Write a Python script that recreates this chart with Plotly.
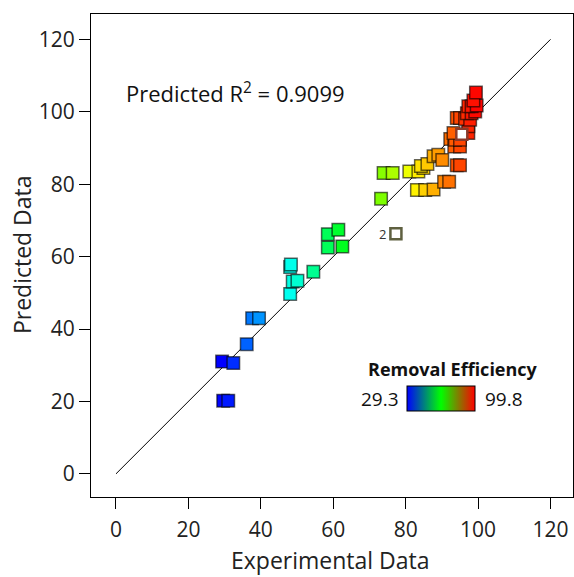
import plotly.graph_objects as go

# Experimental (actual) vs predicted removal efficiency
experimental = [29.3, 32.4, 29.6, 31.0, 36.1, 37.6, 39.5,
                48.1, 48.8, 50.1, 48.1, 48.3, 54.5,
                58.5, 61.4, 58.5, 62.5, 73.2, 73.9, 76.4,
                81.0, 83.5, 84.9, 84.2, 86.0, 87.7, 89.0, 90.1,
                83.1, 85.4, 87.7, 90.6, 92.0,
                94.1, 95.0, 92.3, 93.4, 95.0, 93.6, 95.0, 93.2, 97.3, 97.3,
                94.1, 95.0, 96.4, 97.8, 96.9, 98.2, 99.2, 97.3, 98.2, 99.6,
                98.7, 99.4]
predicted = [31.0, 30.6, 20.2, 20.2, 35.8, 43.0, 43.0,
             49.7, 53.1, 53.3, 57.1, 57.8, 55.8,
             66.2, 67.4, 62.5, 62.8, 76.0, 83.1, 83.1,
             83.5, 83.5, 84.5, 85.0, 85.6, 87.7, 88.1, 86.7,
             78.4, 78.4, 78.5, 80.7, 80.7,
             85.2, 85.2, 92.5, 90.4, 90.4, 92.3, 92.3, 94.1, 94.1, 96.0,
             98.3, 98.3, 98.0, 97.8, 99.6, 99.6, 100.1, 101.5, 101.5, 101.7,
             103.1, 105.3]

# overlapping design points (shown hollow)
overlap_x = [77.3, 95.5]
overlap_y = [66.3, 93.8]
overlap_label = "2"

color_min, color_max = 29.3, 99.8
ticks = [0, 20, 40, 60, 80, 100, 120]
r2_text = "Predicted R<sup>2</sup> = 0.9099"
legend_title = "Removal Efficiency"

point_scale = [[0, "rgb(0,0,255)"], [0.25, "rgb(0,255,255)"], [0.5, "rgb(0,255,0)"],
               [0.75, "rgb(255,255,0)"], [1, "rgb(255,0,0)"]]
bar_scale = [[0, "rgb(0,0,255)"], [0.5, "rgb(0,255,0)"], [1, "rgb(255,0,0)"]]

fig = go.Figure()

# 1:1 line
fig.add_trace(go.Scatter(x=[0, 120], y=[0, 120], mode="lines",
                         line=dict(color="black", width=1), hoverinfo="skip",
                         showlegend=False))

fig.add_trace(go.Scatter(
    x=experimental, y=predicted, mode="markers", showlegend=False,
    marker=dict(symbol="square", size=12.5, color=experimental,
                colorscale=point_scale, cmin=color_min, cmax=color_max,
                line=dict(color="rgba(0,0,0,0.6)", width=1.5))))

fig.add_trace(go.Scatter(
    x=overlap_x, y=overlap_y, mode="markers", showlegend=False,
    marker=dict(symbol="square", size=11, color="white",
                line=dict(color=["#5f6040", "#8a3a2a"], width=2.5))))

# colour legend bar
fig.add_trace(go.Scatter(
    x=[None, None], y=[None, None], mode="markers", showlegend=False,
    marker=dict(color=[color_min, color_max], colorscale=bar_scale,
                cmin=color_min, cmax=color_max, showscale=True,
                colorbar=dict(orientation="h", x=0.726, xanchor="center",
                              y=0.203, yanchor="middle", len=68, lenmode="pixels",
                              thickness=25, outlinewidth=1, outlinecolor="black",
                              showticklabels=False, ticks="", xpad=0, ypad=0))))

axis_common = dict(showline=True, mirror=True, linecolor="black", linewidth=1,
                   ticks="outside", ticklen=11, tickcolor="black",
                   tickvals=ticks, showgrid=False, zeroline=False,
                   tickfont=dict(family="Open Sans", size=21, color="#222"))

fig.update_layout(
    width=574, height=577,
    margin=dict(l=91, r=1, t=14, b=80),
    paper_bgcolor="white", plot_bgcolor="white",
    xaxis=dict(range=[-6.9, 126.2], ticklabelstandoff=3, **axis_common),
    yaxis=dict(range=[-6.4, 127], **axis_common),
    annotations=[
        dict(text=overlap_label, x=overlap_x[0], y=overlap_y[0], xref="x", yref="y",
             xanchor="right", yanchor="middle", xshift=-8, showarrow=False,
             font=dict(family="Open Sans", size=13, color="#333")),
        dict(text=r2_text, xref="paper", yref="paper", x=0.068, y=0.838,
             xanchor="left", yanchor="middle", showarrow=False,
             font=dict(family="Open Sans", size=22, color="#111")),
        dict(text="<b>" + legend_title + "</b>", xref="paper", yref="paper",
             x=0.571, y=0.265, xanchor="left", yanchor="middle", showarrow=False,
             font=dict(family="Open Sans", size=18, color="#111")),
        dict(text=f"{color_min}", xref="paper", yref="paper", x=0.643, y=0.203,
             xanchor="right", yanchor="middle", showarrow=False,
             font=dict(family="Open Sans", size=19, color="#111")),
        dict(text=f"{color_max}", xref="paper", yref="paper", x=0.813, y=0.203,
             xanchor="left", yanchor="middle", showarrow=False,
             font=dict(family="Open Sans", size=19, color="#111")),
        dict(text="Experimental Data", xref="paper", yref="paper", x=0.496, y=-0.13,
             xanchor="center", yanchor="middle", showarrow=False,
             font=dict(family="Open Sans", size=23, color="#222")),
        dict(text="Predicted Data", xref="paper", yref="paper", x=-0.143, y=0.501,
             xanchor="center", yanchor="middle", showarrow=False, textangle=-90,
             font=dict(family="Open Sans", size=23, color="#222")),
    ],
)

fig.write_html("out.html")
